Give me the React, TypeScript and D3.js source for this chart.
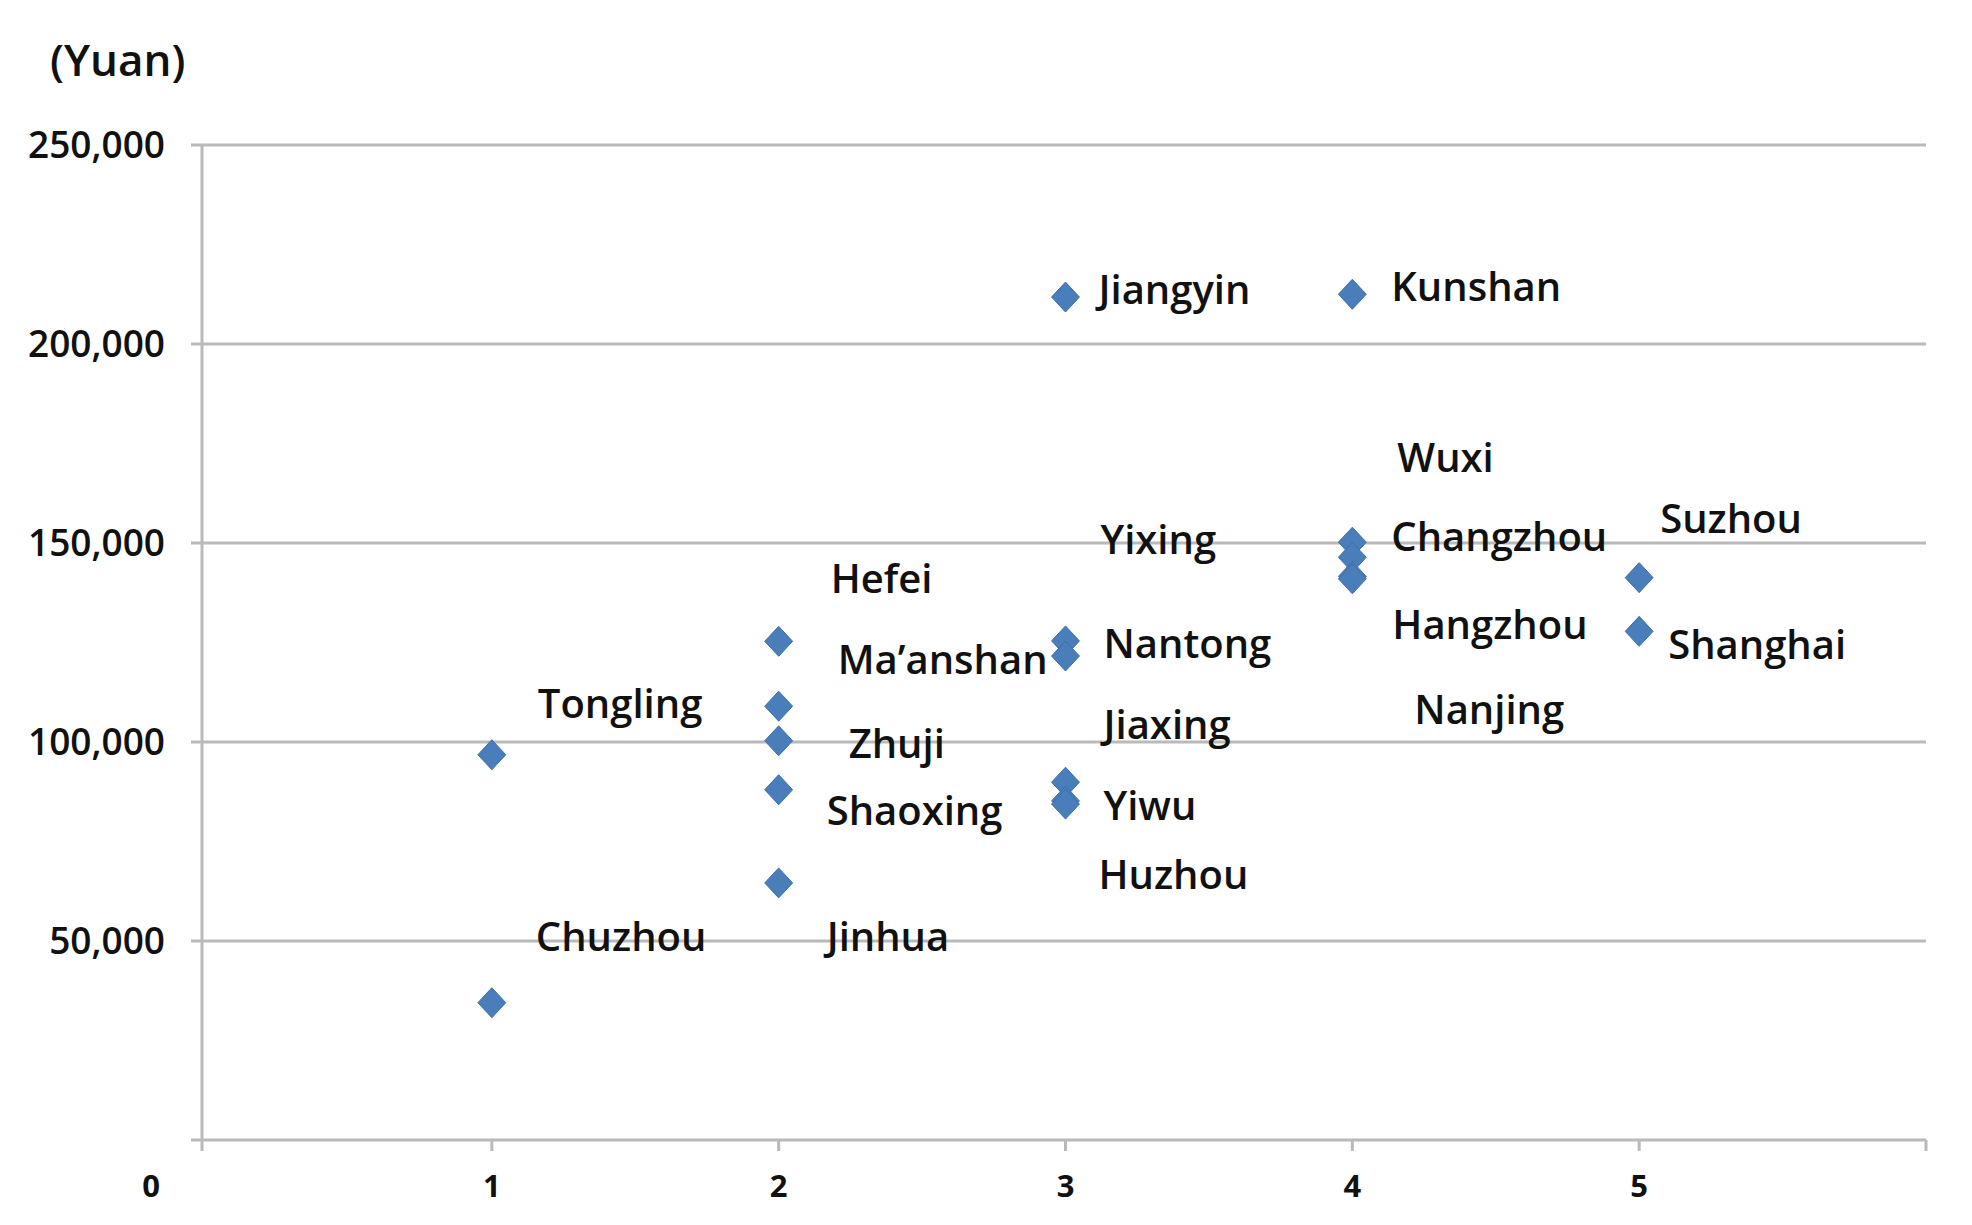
import React, { useRef, useEffect } from "react";
import * as d3 from "d3";

// city tier (x) and per-capita income in yuan (y)
const cities = [
  "Tongling", "Chuzhou",
  "Hefei", "Ma’anshan", "Zhuji", "Shaoxing", "Jinhua",
  "Jiangyin", "Yixing", "Nantong", "Jiaxing", "Yiwu", "Huzhou",
  "Kunshan", "Wuxi", "Changzhou", "Hangzhou", "Nanjing",
  "Suzhou", "Shanghai",
];
const tiers = [1, 1, 2, 2, 2, 2, 2, 3, 3, 3, 3, 3, 3, 4, 4, 4, 4, 4, 5, 5];
const incomes = [
  96800, 34500,
  125300, 109000, 100300, 88000, 64600,
  211800, 125400, 121600, 89900, 85200, 84400,
  212500, 150200, 146400, 141600, 141000,
  141300, 127800,
];
const yTicks = [50000, 100000, 150000, 200000, 250000];
const xTicks = [1, 2, 3, 4, 5];

// hand-placed label offsets (px) from each marker, as in the original
const labelOffsets = [
  [46, -51], [44, -66],
  [52, -63], [59, -47], [70, 3], [48, 21], [48, 54],
  [33, -7], [35, -101], [38, -12], [38, -58], [38, 5], [33, 71],
  [39, -8], [45, -85], [39, -21], [40, 48], [62, 131],
  [21, -59], [29, 13],
];

const FONT = "'Open Sans', 'Noto Sans', sans-serif";
const GRID = "#bababa";

export default function App() {
  const svgRef = useRef<SVGSVGElement>(null);

  useEffect(() => {
    document.body.style.margin = "0";
    const width = 1972;
    const height = 1225;
    const svg = d3.select(svgRef.current);
    svg.selectAll("*").remove();

    const x = d3.scaleLinear().domain([0, 6]).range([205, 1926]);
    const y = d3.scaleLinear().domain([0, 250000]).range([1140, 145]);

    // gridlines
    svg.append("g")
      .selectAll("line")
      .data(yTicks)
      .join("line")
      .attr("x1", 191)
      .attr("x2", x(6))
      .attr("y1", d => y(d))
      .attr("y2", d => y(d))
      .attr("stroke", GRID)
      .attr("stroke-width", 3);

    // axes lines
    svg.append("line")
      .attr("x1", 191).attr("x2", x(6))
      .attr("y1", y(0)).attr("y2", y(0))
      .attr("stroke", GRID).attr("stroke-width", 3);
    svg.append("line")
      .attr("x1", 202).attr("x2", 202)
      .attr("y1", y(250000)).attr("y2", y(0) + 11)
      .attr("stroke", GRID).attr("stroke-width", 3);

    // x ticks
    svg.append("g")
      .selectAll("line")
      .data([...xTicks, 6])
      .join("line")
      .attr("x1", d => x(d)).attr("x2", d => x(d))
      .attr("y1", y(0)).attr("y2", y(0) + 11)
      .attr("stroke", GRID).attr("stroke-width", 3);

    // y tick labels
    svg.append("g")
      .selectAll("text")
      .data(yTicks)
      .join("text")
      .attr("x", 165)
      .attr("y", d => y(d))
      .attr("dy", "0.36em")
      .attr("text-anchor", "end")
      .attr("font-family", FONT)
      .attr("font-weight", 600)
      .attr("font-size", 37)
      .attr("fill", "#111")
      .text(d => d3.format(",")(d));

    // x tick labels (the zero sits under the y axis labels)
    svg.append("g")
      .selectAll("text")
      .data(xTicks)
      .join("text")
      .attr("x", d => x(d))
      .attr("y", 1186)
      .attr("dy", "0.36em")
      .attr("text-anchor", "middle")
      .attr("font-family", FONT)
      .attr("font-weight", 700)
      .attr("font-size", 31)
      .attr("fill", "#111")
      .text(d => d);
    svg.append("text")
      .attr("x", 151).attr("y", 1186).attr("dy", "0.36em")
      .attr("text-anchor", "middle")
      .attr("font-family", FONT).attr("font-weight", 700)
      .attr("font-size", 31).attr("fill", "#111")
      .text("0");

    // unit label
    svg.append("text")
      .attr("x", 50).attr("y", 60).attr("dy", "0.36em")
      .attr("font-family", FONT).attr("font-weight", 600)
      .attr("font-size", 44).attr("fill", "#111")
      .text("(Yuan)");

    const points = cities.map((c, i) => ({ city: c, tier: tiers[i], income: incomes[i], off: labelOffsets[i] }));

    // diamond markers
    const diamond = {
      draw(ctx: any, size: number) {
        const h = Math.sqrt(size) / 2;
        const w = h * 0.93;
        ctx.moveTo(0, -h);
        ctx.lineTo(w, 0);
        ctx.lineTo(0, h);
        ctx.lineTo(-w, 0);
        ctx.closePath();
      },
    };
    svg.append("g")
      .selectAll("path")
      .data(points)
      .join("path")
      .attr("transform", d => `translate(${x(d.tier)},${y(d.income)})`)
      .attr("d", d3.symbol(diamond as any, 900)() as string)
      .attr("fill", "#4a7ebb")
      .attr("stroke", "#3f6fa8")
      .attr("stroke-width", 1);

    // city labels
    svg.append("g")
      .selectAll("text")
      .data(points)
      .join("text")
      .attr("x", d => x(d.tier) + d.off[0])
      .attr("y", d => y(d.income) + d.off[1])
      .attr("dy", "0.36em")
      .attr("font-family", FONT)
      .attr("font-weight", 600)
      .attr("font-size", 40)
      .attr("fill", "#111")
      .text(d => d.city);

    svg.attr("width", width).attr("height", height);
  }, []);

  return <svg ref={svgRef} style={{ display: "block", background: "#fff" }} />;
}
